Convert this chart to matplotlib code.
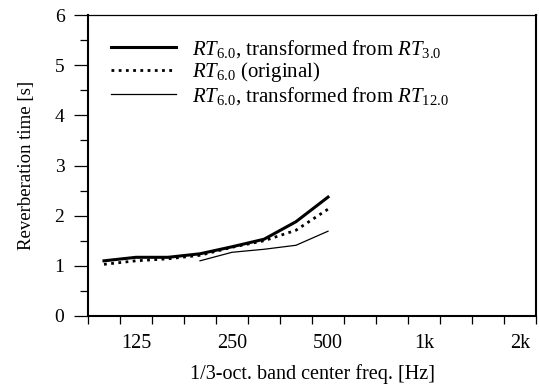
import numpy as np
import matplotlib.pyplot as plt
from matplotlib.ticker import MultipleLocator

plt.rcParams['font.family'] = ['Liberation Serif', 'DejaVu Serif']
plt.rcParams['mathtext.fontset'] = 'custom'
plt.rcParams['mathtext.rm'] = 'Liberation Serif'
plt.rcParams['mathtext.it'] = 'Liberation Serif:italic'

# 1/3-octave bands 100 Hz .. 2 kHz (index positions)
bands = ['100', '125', '160', '200', '250', '315', '400', '500',
         '630', '800', '1k', '1.25k', '1.6k', '2k']
label_bands = ['125', '250', '500', '1k', '2k']

# RT6.0 transformed from RT3.0 (100 .. 500 Hz)
rt_from3 = [1.10, 1.17, 1.17, 1.24, 1.38, 1.53, 1.88, 2.37]
# RT6.0 original (100 .. 500 Hz)
rt_orig = [1.03, 1.10, 1.14, 1.21, 1.37, 1.50, 1.71, 2.13]
# RT6.0 transformed from RT12.0 (200 .. 500 Hz)
rt_from12 = [1.10, 1.27, 1.33, 1.41, 1.69]

x3 = np.arange(len(rt_from3))
x12 = np.arange(3, 3 + len(rt_from12))

fig = plt.figure(figsize=(5.39, 3.89), dpi=100)
ax = fig.add_axes([88/539, 1 - 316/389, 448/539, 301/389])

ax.plot(x3, rt_from3, color='black', lw=2.2,
        label=r'$RT_{6.0}$, transformed from $RT_{3.0}$')
ax.plot(x3, rt_orig, color='black', lw=2.0, ls=(0, (1, 1.6)),
        label=r'$RT_{6.0}$ (original)')
ax.plot(x12, rt_from12, color='black', lw=0.9,
        label=r'$RT_{6.0}$, transformed from $RT_{12.0}$')

ax.set_xlim(-0.5, len(bands) - 0.5)
ax.set_ylim(0, 6)

# labels at band centres, ticks at band edges
ax.set_xticks([bands.index(b) for b in label_bands])
ax.set_xticklabels(label_bands)
ax.set_xticks(np.arange(-0.5, len(bands) + 0.5, 1), minor=True)
ax.tick_params(axis='x', which='major', length=0, pad=13, labelsize=14.5)
ax.tick_params(axis='x', which='minor', direction='out', length=6, width=0.9)

ax.yaxis.set_major_locator(MultipleLocator(1))
ax.yaxis.set_minor_locator(MultipleLocator(0.5))
ax.tick_params(axis='y', which='major', direction='out', length=10, width=0.9, labelsize=14, pad=7)
ax.tick_params(axis='y', which='minor', direction='out', length=6, width=0.9)

for s in ax.spines.values():
    s.set_linewidth(0.9)
for side in ['left', 'bottom', 'right']:
    ax.spines[side].set_linewidth(1.5)

ax.set_xlabel('1/3-oct. band center freq. [Hz]', fontsize=14.5, labelpad=8)
ax.set_ylabel('Reverberation time [s]', fontsize=13.5, labelpad=14)

ax.legend(loc='upper left', frameon=False, fontsize=15, handlelength=3.1,
          handletextpad=0.8, labelspacing=0.02, borderpad=0.3,
          borderaxespad=0.8, bbox_to_anchor=(0.0, 1.0))

fig.savefig('out.png', dpi=100)
